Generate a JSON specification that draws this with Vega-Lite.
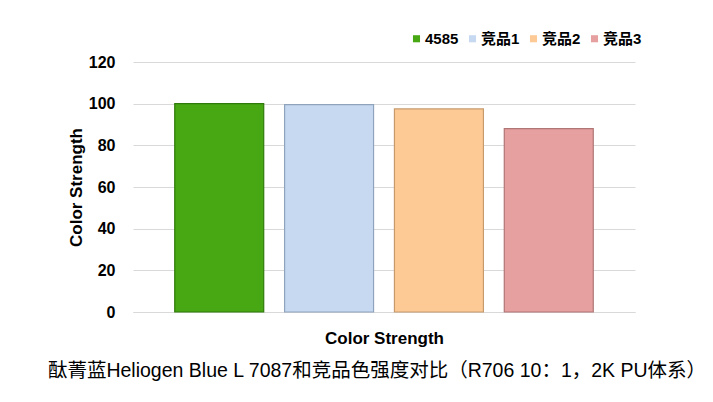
{
  "$schema": "https://vega.github.io/schema/vega-lite/v6.json",
  "autosize": {"type": "none"},
  "padding": {"left": 133, "top": 62, "right": 78, "bottom": 90},
  "width": 502,
  "height": 250,
  "background": "white",
  "view": {"stroke": null},
  "data": {
    "values": [
      {"series": "4585", "strength": 100},
      {"series": "竞品1", "strength": 99.5},
      {"series": "竞品2", "strength": 97.5},
      {"series": "竞品3", "strength": 88}
    ]
  },
  "title": {
    "text": "酞菁蓝Heliogen Blue L 7087和竞品色强度对比（R706 10：1，2K PU体系）",
    "orient": "bottom",
    "anchor": "middle",
    "offset": 16,
    "dx": -7,
    "font": "Liberation Sans, Noto Sans CJK SC",
    "fontSize": 19.5,
    "fontWeight": "normal",
    "color": "#000000"
  },
  "mark": {"type": "bar", "strokeWidth": 1.2},
  "encoding": {
    "x": {
      "field": "series",
      "type": "nominal",
      "sort": null,
      "scale": {"paddingInner": 0.19, "paddingOuter": 0.38},
      "axis": {
        "labels": false,
        "ticks": false,
        "domainColor": "#d9d9d9",
        "title": "Color Strength",
        "titleFont": "Liberation Sans",
        "titleFontSize": 17,
        "titleFontWeight": "bold",
        "titleColor": "#000000",
        "titlePadding": 18
      }
    },
    "y": {
      "field": "strength",
      "type": "quantitative",
      "scale": {"domain": [0, 120]},
      "axis": {
        "values": [0, 20, 40, 60, 80, 100, 120],
        "domain": false,
        "ticks": false,
        "gridColor": "#d9d9d9",
        "labelFont": "Liberation Sans",
        "labelFontSize": 16,
        "labelFontWeight": "bold",
        "labelColor": "#000000",
        "labelPadding": 18,
        "title": "Color Strength",
        "titleFont": "Liberation Sans",
        "titleFontSize": 17,
        "titleFontWeight": "bold",
        "titleColor": "#000000",
        "titlePadding": 3
      }
    },
    "color": {
      "field": "series",
      "type": "nominal",
      "sort": null,
      "scale": {
        "domain": ["4585", "竞品1", "竞品2", "竞品3"],
        "range": ["#48a814", "#c6d9f1", "#fdca96", "#e6a09f"]
      },
      "legend": {
        "orient": "none",
        "legendX": 276,
        "legendY": -31,
        "direction": "horizontal",
        "title": null,
        "symbolType": "square",
        "symbolSize": 50,
        "symbolStrokeWidth": 0,
        "labelFont": "Liberation Sans, Noto Sans CJK SC",
        "labelFontSize": 15,
        "labelFontWeight": "bold",
        "labelColor": "#000000",
        "labelOffset": 1,
        "columnPadding": 6
      }
    },
    "stroke": {
      "field": "series",
      "type": "nominal",
      "sort": null,
      "scale": {
        "domain": ["4585", "竞品1", "竞品2", "竞品3"],
        "range": ["#2f7a0a", "#8fa3bd", "#c79a6c", "#b07575"]
      },
      "legend": null
    }
  }
}
